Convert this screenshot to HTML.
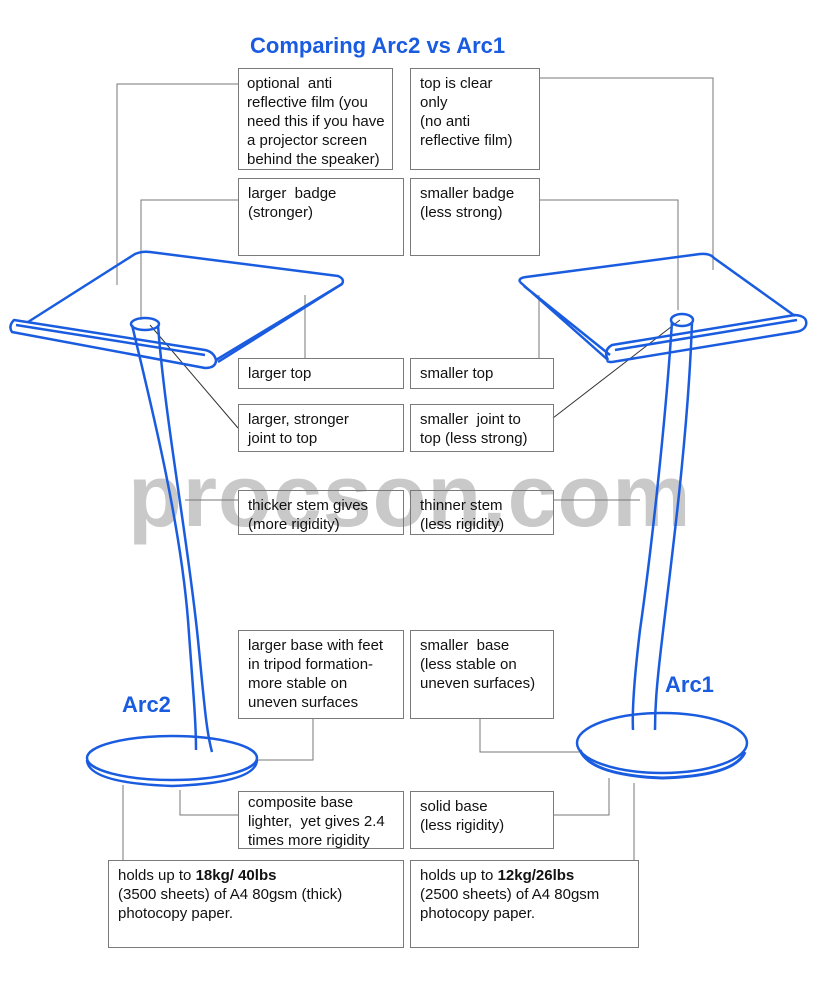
<!DOCTYPE html>
<html><head><meta charset="utf-8"><style>
body{margin:0;width:814px;height:1000px;background:#fff;position:relative;overflow:hidden;font-family:"Liberation Sans",Arial,sans-serif}
.b{position:absolute;border:1px solid #7a7a7a;box-sizing:border-box;padding:5px 9px;font-size:15px;line-height:19px;color:#111;white-space:nowrap}
.t{position:absolute;color:#1a5ce0;font-weight:bold}
</style></head><body>
<div style="position:absolute;left:128px;top:445px;font-size:88px;color:#c9c9c9;font-weight:bold;letter-spacing:1px">procson.com</div>
<svg width="814" height="1000" style="position:absolute;left:0;top:0">
<g fill="none" stroke="#777" stroke-width="1">
<polyline points="238,84 117,84 117,285"/>
<polyline points="539,78 713,78 713,270"/>
<polyline points="238,200 141,200 141,320"/>
<polyline points="539,200 678,200 678,310"/>
<line x1="305" y1="295" x2="305" y2="358"/>
<line x1="539" y1="295" x2="539" y2="358"/>
<line x1="150" y1="325" x2="238" y2="428" stroke="#333"/>
<line x1="553" y1="418" x2="680" y2="320" stroke="#333"/>
<line x1="185" y1="500" x2="238" y2="500"/>
<line x1="553" y1="500" x2="640" y2="500"/>
<polyline points="313,718 313,760 258,760"/>
<polyline points="480,718 480,752 580,752"/>
<polyline points="238,815 180,815 180,790"/>
<polyline points="553,815 609,815 609,778"/>
<line x1="123" y1="860" x2="123" y2="785"/>
<line x1="634" y1="860" x2="634" y2="783"/>
</g>
<g fill="none" stroke="#1a5ce0" stroke-width="2.5" stroke-linejoin="round">
<path d="M28,322 L135,254 Q142,251 150,252 L338,276 Q345,279 342,284 L218,362"/>
<path d="M14,320 Q8,326 12,332 L205,368 Q216,368 216,360 Q214,352 205,350 L14,320 Z"/>
<path d="M16,325 L205,355"/>
<path d="M216,360 L342,284"/>
<path d="M132,325 C150,400 180,520 188,620 C193,690 196,720 196,750"/>
<path d="M158,325 C165,420 188,540 198,640 C204,700 206,730 212,752"/>
<ellipse cx="145" cy="324" rx="14" ry="6"/>
<ellipse cx="172" cy="758" rx="85" ry="22"/>
<path d="M87,760 Q88,783 172,786 Q256,783 257,760"/>
<path d="M520,282 Q518,278 526,277 L700,254 Q710,253 714,258 L795,316"/>
<path d="M520,282 L608,360 M524,286 L610,355"/>
<path d="M608,360 Q603,350 612,345 L795,315 Q808,316 806,325 Q804,331 795,332 L612,362 Q606,362 608,360"/>
<path d="M615,350 L797,320"/>
<path d="M672,322 C665,430 650,560 640,630 C634,680 632,710 633,730"/>
<path d="M692,322 C688,440 670,570 662,640 C656,690 655,710 655,730"/>
<ellipse cx="682" cy="320" rx="11" ry="6"/>
<ellipse cx="662" cy="743" rx="85" ry="30"/>
<path d="M580,750 Q590,775 662,778 Q735,776 745,752" stroke-width="3"/>
</g>
</svg>
<div class="t" style="left:250px;top:33px;font-size:22px">Comparing Arc2 vs Arc1</div>
<div class="t" style="left:122px;top:692px;font-size:22px">Arc2</div>
<div class="t" style="left:665px;top:672px;font-size:22px">Arc1</div>
<div class="b" style="left:238px;top:68px;width:155px;height:102px;padding-left:8px">optional&nbsp; anti<br>reflective film (you<br>need this if you have<br>a projector screen<br>behind the speaker)</div>
<div class="b" style="left:410px;top:68px;width:130px;height:102px">top is clear<br>only<br>(no anti<br>reflective film)</div>
<div class="b" style="left:238px;top:178px;width:166px;height:78px">larger&nbsp; badge<br>(stronger)</div>
<div class="b" style="left:410px;top:178px;width:130px;height:78px">smaller badge<br>(less strong)</div>
<div class="b" style="left:238px;top:358px;width:166px;height:31px">larger top</div>
<div class="b" style="left:410px;top:358px;width:144px;height:31px">smaller top</div>
<div class="b" style="left:238px;top:404px;width:166px;height:48px">larger, stronger<br>joint to top</div>
<div class="b" style="left:410px;top:404px;width:144px;height:48px">smaller&nbsp; joint to<br>top (less strong)</div>
<div class="b" style="left:238px;top:490px;width:166px;height:45px">thicker stem gives<br>(more rigidity)</div>
<div class="b" style="left:410px;top:490px;width:144px;height:45px">thinner stem<br>(less rigidity)</div>
<div class="b" style="left:238px;top:630px;width:166px;height:89px">larger base with feet<br>in tripod formation-<br>more stable on<br>uneven surfaces</div>
<div class="b" style="left:410px;top:630px;width:144px;height:89px">smaller&nbsp; base<br>(less stable on<br>uneven surfaces)</div>
<div class="b" style="left:238px;top:791px;width:166px;height:58px;padding-top:1px">composite base<br>lighter,&nbsp; yet gives 2.4<br>times more rigidity</div>
<div class="b" style="left:410px;top:791px;width:144px;height:58px">solid base<br>(less rigidity)</div>
<div class="b" style="left:108px;top:860px;width:296px;height:88px">holds up to <b>18kg/ 40lbs</b><br>(3500 sheets) of A4 80gsm (thick)<br>photocopy paper.</div>
<div class="b" style="left:410px;top:860px;width:229px;height:88px">holds up to <b>12kg/26lbs</b><br>(2500 sheets) of A4 80gsm<br>photocopy paper.</div>
</body></html>
